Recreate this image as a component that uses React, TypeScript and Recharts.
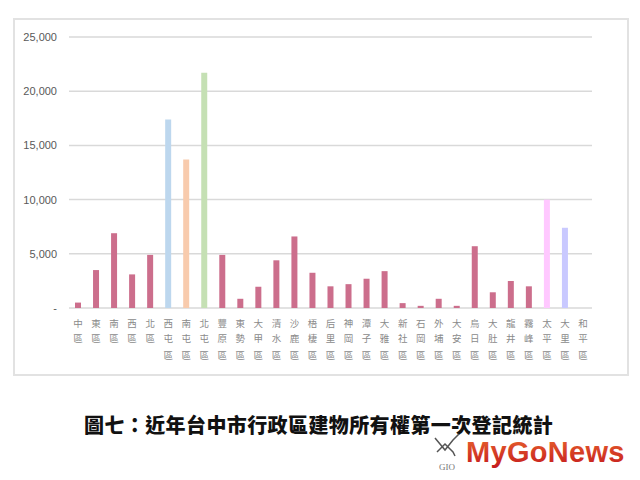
import React from 'react';
import { BarChart, Bar, XAxis, YAxis, CartesianGrid, Cell } from 'recharts';

const districts = [
  '中區', '東區', '南區', '西區', '北區', '西屯區', '南屯區', '北屯區', '豐原區', '東勢區',
  '大甲區', '清水區', '沙鹿區', '梧棲區', '后里區', '神岡區', '潭子區', '大雅區', '新社區', '石岡區',
  '外埔區', '大安區', '烏日區', '大肚區', '龍井區', '霧峰區', '太平區', '大里區', '和平區',
];

const counts = [
  500, 3500, 6900, 3100, 4900, 17400, 13700, 21700, 4900, 850,
  1950, 4400, 6600, 3250, 2000, 2200, 2700, 3400, 450, 200,
  850, 200, 5700, 1450, 2500, 2000, 10000, 7400, 0,
];

const RED = '#CC6E8C';
const barColors = [
  RED, RED, RED, RED, RED, '#BDD7EE', '#F8CBAD', '#C5E0B4', RED, RED,
  RED, RED, RED, RED, RED, RED, RED, RED, RED, RED,
  RED, RED, RED, RED, RED, RED, '#FFC8FF', '#C9C9FF', RED,
];

const yTicks = [0, 5000, 10000, 15000, 20000, 25000];

const title = '圖七：近年台中市行政區建物所有權第一次登記統計';
const brand = 'MyGoNews';

const data = districts.map((name, i) => ({ name, value: counts[i] }));

const fmt = (v: number) => (v === 0 ? '-' : v.toLocaleString('en-US'));

const YTick = (props: any) => {
  const { y, payload } = props;
  return (
    <text
      x={57}
      y={y}
      textAnchor="end"
      dominantBaseline="central"
      fill="#595959"
      fontSize={11}
      fontFamily="'Liberation Sans', Arial, sans-serif"
    >
      {fmt(payload.value)}
    </text>
  );
};

const rowY = [323, 337.5, 355];

const XTick = (props: any) => {
  const { x, payload } = props;
  const chars = Array.from(String(payload.value));
  return (
    <g>
      {chars.map((c, i) => (
        <text
          key={i}
          x={x}
          y={rowY[i] ?? 355 + (i - 2) * 15}
          textAnchor="middle"
          dominantBaseline="central"
          fill="#8a8a8a"
          fontSize={9.5}
          fontFamily="'Noto Sans CJK TC', sans-serif"
        >
          {c}
        </text>
      ))}
    </g>
  );
};

export default function App() {
  return (
    <div style={{ position: 'absolute', left: 0, top: 0, width: 640, height: 480, background: '#fff', overflow: 'hidden' }}>
      <div
        style={{
          position: 'absolute',
          left: 13,
          top: 18,
          width: 612,
          height: 354,
          border: '2px solid #e2e2e2',
        }}
      />
      <div style={{ position: 'absolute', left: 0, top: 0 }}>
        <BarChart
          width={640}
          height={480}
          data={data}
          margin={{ top: 37, right: 48, bottom: 112, left: 9 }}
          barCategoryGap={0}
        >
          <CartesianGrid horizontal vertical={false} stroke="#d9d9d9" strokeWidth={1.5} />
          <XAxis
            dataKey="name"
            interval={0}
            axisLine={false}
            tickLine={false}
            height={60}
            tick={<XTick />}
          />
          <YAxis
            width={60}
            domain={[0, 25000]}
            ticks={yTicks}
            axisLine={false}
            tickLine={false}
            tick={<YTick />}
          />
          <Bar dataKey="value" barSize={6} isAnimationActive={false}>
            {data.map((d, i) => (
              <Cell key={d.name} fill={barColors[i]} />
            ))}
          </Bar>
        </BarChart>
      </div>
      <div
        style={{
          position: 'absolute',
          left: 84,
          top: 410,
          fontFamily: "'Noto Sans CJK TC', sans-serif",
          fontWeight: 900,
          fontSize: 20,
          lineHeight: '30px',
          color: '#111',
          whiteSpace: 'nowrap',
          letterSpacing: 0.4,
        }}
      >
        {title}
      </div>
      <svg style={{ position: 'absolute', left: 425, top: 430 }} width={215} height={45}>
        <defs>
          <linearGradient id="brandGrad" x1="0" y1="0" x2="0" y2="1">
            <stop offset="0%" stopColor="#E8642E" />
            <stop offset="100%" stopColor="#C41A1E" />
          </linearGradient>
        </defs>
        <path d="M10 8 L20 20 L28 10 L34 4 M12 22 L20 14 L28 22 L30 26" stroke="#555" strokeWidth={1.5} fill="none" />
        <text x={14} y={40} fontSize={9} fill="#777" fontFamily="'Liberation Serif', serif">GIO</text>
        <text
          x={41}
          y={32}
          fontSize={29}
          fontWeight={900}
          fill="url(#brandGrad)"
          fontFamily="'Liberation Sans', Arial, sans-serif"
          letterSpacing={0.3}
        >
          {brand}
        </text>
      </svg>
    </div>
  );
}
